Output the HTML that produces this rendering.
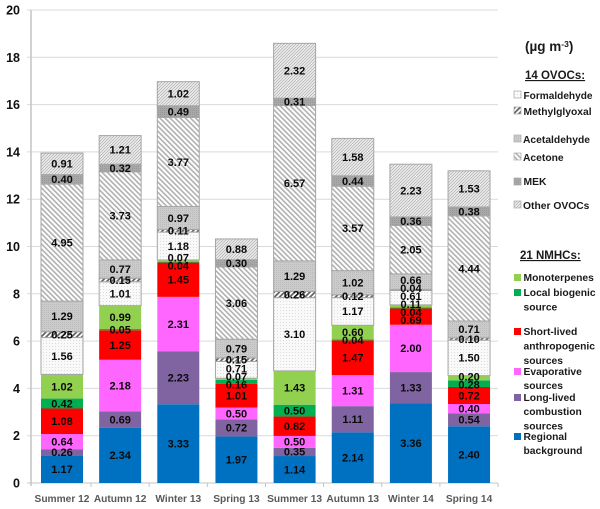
<!DOCTYPE html>
<html lang="en">
<head>
<meta charset="utf-8">
<title>Stacked VOC chart</title>
<style>
html,body{margin:0;padding:0;background:#fff;width:600px;height:509px;overflow:hidden}
svg{display:block;font-family:"Liberation Sans",sans-serif;font-weight:bold}
</style>
</head>
<body>
<svg id="chart" xmlns="http://www.w3.org/2000/svg" width="600" height="509" viewBox="0 0 600 509">
<defs>
<pattern id="p-form" width="3" height="3" patternUnits="userSpaceOnUse"><rect width="3" height="3" fill="#f9f9f9"/><rect x="1" y="1" width="1" height="1" fill="#dcdcdc"/></pattern>
<pattern id="p-methyl" width="3.6" height="3.6" patternUnits="userSpaceOnUse" patternTransform="rotate(45)"><rect width="3.6" height="3.6" fill="#fff"/><rect width="1.8" height="3.6" fill="#666"/></pattern>
<pattern id="p-acet" width="2" height="2" patternUnits="userSpaceOnUse"><rect width="2" height="2" fill="#cbcbcb"/><rect width="1" height="1" fill="#bcbcbc"/></pattern>
<pattern id="p-acetone" width="3.6" height="3.6" patternUnits="userSpaceOnUse" patternTransform="rotate(-45)"><rect width="3.6" height="3.6" fill="#fff"/><rect width="1.6" height="3.6" fill="#b0b0b0"/></pattern>
<pattern id="p-mek" width="2" height="2" patternUnits="userSpaceOnUse"><rect width="2" height="2" fill="#a8a8a8"/><rect width="1" height="1" fill="#989898"/></pattern>
<pattern id="p-other" width="3" height="3" patternUnits="userSpaceOnUse"><rect width="3" height="3" fill="#e6e6e6"/><path d="M0 0h1v1H0zM2 1h1v1H2zM1 2h1v1H1z" fill="#bdbdbd"/></pattern>
</defs>
<g id="grid"></g>
<g id="axes"></g>
<g id="bars"></g>
<g id="labels"></g>

<g fill="#1a1a1a" font-size="10.6">
<text x="525" y="51" font-size="13.5" font-weight="bold">(µg m<tspan font-size="8.5" dy="-4">-3</tspan><tspan dy="4">)</tspan></text>
<text x="525" y="79" font-size="11.5" text-decoration="underline">14 OVOCs:</text>
<rect x="514" y="91" width="7" height="7" fill="url(#p-form)" stroke="#aaa" stroke-width=".7"/>
<text x="523.5" y="99" font-size="10.1">Formaldehyde</text>
<rect x="514" y="107" width="7" height="7" fill="url(#p-methyl)" stroke="#aaa" stroke-width=".7"/>
<text x="523.5" y="115" font-size="10.3">Methylglyoxal</text>
<rect x="514" y="135" width="7" height="7" fill="url(#p-acet)" stroke="#aaa" stroke-width=".7"/>
<text x="523" y="143" font-size="10.3">Acetaldehyde</text>
<rect x="514" y="153" width="7" height="7" fill="url(#p-acetone)" stroke="#aaa" stroke-width=".7"/>
<text x="523" y="161" font-size="10.3">Acetone</text>
<rect x="514" y="178" width="7" height="7" fill="url(#p-mek)" stroke="#aaa" stroke-width=".7"/>
<text x="523.5" y="185" font-size="10.3">MEK</text>
<rect x="514" y="201" width="7" height="7" fill="url(#p-other)" stroke="#aaa" stroke-width=".7"/>
<text x="523" y="209" font-size="10.3">Other OVOCs</text>

<text x="520" y="259" font-size="11.5" text-decoration="underline">21 NMHCs:</text>
<rect x="514" y="274" width="7" height="7" fill="#92d050"/>
<text x="523.5" y="281" font-size="10.3">Monoterpenes</text>
<rect x="514" y="289" width="7" height="7" fill="#00b050"/>
<text x="523.5" y="296" font-size="10.3">Local biogenic<tspan x="523.5" dy="14.3">source</tspan></text>
<rect x="514" y="328" width="7" height="7" fill="#ff0000"/>
<text x="523.5" y="335" font-size="10.3">Short-lived<tspan x="523.5" dy="14.5">anthropogenic</tspan><tspan x="523.5" dy="14.5">sources</tspan></text>
<rect x="514" y="368" width="7" height="7" fill="#ff66ff"/>
<text x="523.5" y="375" font-size="10.3">Evaporative<tspan x="523.5" dy="14">sources</tspan></text>
<rect x="514" y="394" width="7" height="7" fill="#8064a2"/>
<text x="523.5" y="401" font-size="10.3">Long-lived<tspan x="523.5" dy="14">combustion</tspan><tspan x="523.5" dy="14.5">sources</tspan></text>
<rect x="514" y="433" width="7" height="7" fill="#0070c0"/>
<text x="523.5" y="440" font-size="10.3">Regional<tspan x="523.5" dy="14">background</tspan></text>
</g>
</svg>
<script>
const categories = ["Summer 12","Autumn 12","Winter 13","Spring 13","Summer 13","Autumn 13","Winter 14","Spring 14"];
const tickLabels = [0,2,4,6,8,10,12,14,16,18,20];
const seriesNames = ["regional","long-lived","evaporative","short-lived","local-biogenic","monoterpenes","formaldehyde","methylglyoxal","acetaldehyde","acetone","mek","other-ovocs"];
const regional = [1.17,2.34,3.33,1.97,1.14,2.14,3.36,2.40];
const longLived = [0.26,0.69,2.23,0.72,0.35,1.11,1.33,0.54];
const evaporative = [0.64,2.18,2.31,0.50,0.50,1.31,2.00,0.40];
const shortLived = [1.08,1.25,1.45,1.01,0.82,1.47,0.69,0.72];
const localBiogenic = [0.42,0.05,0.04,0.16,0.50,0.04,0.04,0.28];
const monoterpenes = [1.02,0.99,0.07,0.07,1.43,0.60,0.11,0.20];
const formaldehyde = [1.56,1.01,1.18,0.71,3.10,1.17,0.61,1.50];
const methylglyoxal = [0.25,0.15,0.11,0.15,0.26,0.12,0.04,0.10];
const acetaldehyde = [1.29,0.77,0.97,0.79,1.29,1.02,0.66,0.71];
const acetone = [4.95,3.73,3.77,3.06,6.57,3.57,2.05,4.44];
const mek = [0.40,0.32,0.49,0.30,0.31,0.44,0.36,0.38];
const otherOvocs = [0.91,1.21,1.02,0.88,2.32,1.58,2.23,1.53];

const seriesValues = [regional,longLived,evaporative,shortLived,localBiogenic,monoterpenes,formaldehyde,methylglyoxal,acetaldehyde,acetone,mek,otherOvocs];
const fills = ["#0070c0","#8064a2","#ff66ff","#ff0000","#00b050","#92d050","url(#p-form)","url(#p-methyl)","url(#p-acet)","url(#p-acetone)","url(#p-mek)","url(#p-other)"];

const NS = "http://www.w3.org/2000/svg";
const yScale = v => 483 - v * 23.65;
const xCenter = i => 62 + i * 58.15;
const barWidth = 42;

function make(tag, attrs, parent, text) {
  const el = document.createElementNS(NS, tag);
  for (const k in attrs) el.setAttribute(k, attrs[k]);
  if (text !== undefined) el.textContent = text;
  parent.appendChild(el);
  return el;
}
const grid = document.getElementById('grid');
const axes = document.getElementById('axes');
const bars = document.getElementById('bars');
const labels = document.getElementById('labels');

tickLabels.forEach(t => {
  const y = yScale(t);
  if (t > 0) {
    const line = make('line', {x1:27, x2:498, y1:y, y2:y, stroke:'#d9d9d9', 'stroke-width':1}, grid);
    
    
  }
  const tick = make('text', {x:20, y:y+4.5, 'text-anchor':'end', 'font-size':12.5, fill:'#111'}, axes, String(t));
  
  
});
const yAxis = make('line', {x1:31, x2:31, y1:yScale(20), y2:yScale(0)+3, stroke:'#c4c4c4', 'stroke-width':1.5}, axes);


const xAxis = make('line', {x1:27, x2:498, y1:yScale(0), y2:yScale(0), stroke:'#c4c4c4', 'stroke-width':1}, axes);



categories.forEach((c, i) => {
  const cx = xCenter(i);
  const tk = make('line', {x1:cx+29, x2:cx+29, y1:yScale(0), y2:yScale(0)+4, stroke:'#c4c4c4', 'stroke-width':1}, axes);
  
  
  const lab = make('text', {x:cx, y:502, 'text-anchor':'middle', 'font-size':10.2, fill:'#595959'}, axes, c);
  
  

  let cum = 0;
  const pos = [];
  seriesValues.forEach((vals, s) => {
    const v = vals[i];
    const top = yScale(cum + v), bot = yScale(cum);
    const isOvoc = s >= 6;
    const r = make('rect', {x:cx - barWidth/2, y:top, width:barWidth, height:bot-top, fill:fills[s]}, bars);
    if (isOvoc) { r.setAttribute('stroke', '#a6a6a6'); r.setAttribute('stroke-width', '1'); }
    
    
    pos.push({v, y:(top+bot)/2});
    cum += v;
  });
  // push crowded labels apart so thin segments stay readable
  const gap = 8;
  for (let it = 0; it < 60; it++) {
    for (let k = 0; k < pos.length - 1; k++) {
      const d = pos[k].y - pos[k+1].y;
      if (d < gap) { const m = (gap - d) / 2; pos[k].y += m; pos[k+1].y -= m; }
    }
  }
  pos.forEach((p, s) => {
    const t = make('text', {x:cx, y:p.y + 3.8, 'text-anchor':'middle', 'font-size':11, fill:'#0a0a0a'}, labels, p.v.toFixed(2));
    
    
  });
});
</script>
</body>
</html>
